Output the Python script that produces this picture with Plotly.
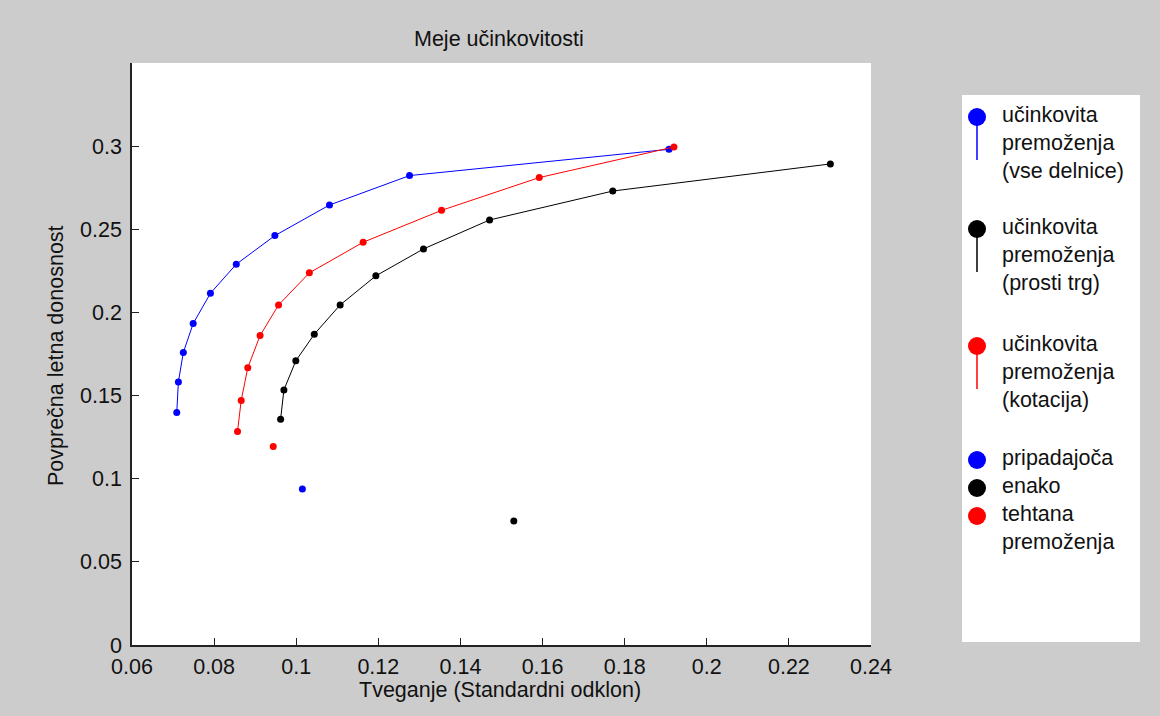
import plotly.graph_objects as go

# ---------------- data ----------------
blue_x = [0.0709, 0.0713, 0.0725, 0.0749, 0.0791, 0.0854, 0.0948, 0.1081, 0.1276, 0.1908]
blue_y = [0.1398, 0.1582, 0.1759, 0.1933, 0.2115, 0.2290, 0.2462, 0.2646, 0.2823, 0.2981]

black_x = [0.0962, 0.0970, 0.0999, 0.1044, 0.1107, 0.1194, 0.1310, 0.1471, 0.1771, 0.2301]
black_y = [0.1358, 0.1534, 0.1709, 0.1869, 0.2045, 0.2220, 0.2382, 0.2556, 0.2730, 0.2893]

red_x = [0.0857, 0.0866, 0.0882, 0.0912, 0.0957, 0.1032, 0.1163, 0.1354, 0.1592, 0.1920]
red_y = [0.1284, 0.1471, 0.1667, 0.1861, 0.2045, 0.2238, 0.2422, 0.2614, 0.2811, 0.2995]

# single portfolios: pripadajoča (blue), enako (black), tehtana (red)
single_x = [0.1015, 0.1530, 0.0944]
single_y = [0.0938, 0.0745, 0.1194]
single_colors = ["#0000ff", "#000000", "#ff0000"]

x_ticks = [0.06, 0.08, 0.10, 0.12, 0.14, 0.16, 0.18, 0.20, 0.22, 0.24]
x_ticktext = ["0.06", "0.08", "0.1", "0.12", "0.14", "0.16", "0.18", "0.2", "0.22", "0.24"]
y_ticks = [0, 0.05, 0.10, 0.15, 0.20, 0.25, 0.30]
y_ticktext = ["0", "0.05", "0.1", "0.15", "0.2", "0.25", "0.3"]

curve_labels = [
    ["učinkovita", "premoženja", "(vse delnice)"],
    ["učinkovita", "premoženja", "(prosti trg)"],
    ["učinkovita", "premoženja", "(kotacija)"],
]
curve_colors = ["#0000ff", "#000000", "#ff0000"]
single_labels = ["pripadajoča", "enako", "tehtana", "premoženja"]

title_text = "Meje učinkovitosti"
x_title = "Tveganje (Standardni odklon)"
y_title = "Povprečna letna donosnost"

# ---------------- layout geometry ----------------
W, H = 1160, 716
L, R, T, B = 132, 871, 63, 645
FONT = "Liberation Sans, Arial, sans-serif"
FS = 21.5
TXT = "#111111"


def px(x):
    return (x - L) / (R - L)


def py(y):
    return (B - y) / (B - T)


fig = go.Figure()

for xs, ys, c in [(blue_x, blue_y, curve_colors[0]),
                  (black_x, black_y, curve_colors[1]),
                  (red_x, red_y, curve_colors[2])]:
    fig.add_trace(go.Scatter(x=xs, y=ys, mode="lines+markers",
                             line=dict(color=c, width=1),
                             marker=dict(color=c, size=7, symbol="circle"),
                             showlegend=False, hoverinfo="x+y"))

for i in range(len(single_x)):
    fig.add_trace(go.Scatter(x=[single_x[i]], y=[single_y[i]], mode="markers",
                             marker=dict(color=single_colors[i], size=7),
                             showlegend=False))

shapes = []
annotations = []

# legend box
shapes.append(dict(type="rect", xref="paper", yref="paper",
                   x0=px(962), x1=px(1140), y0=py(642), y1=py(95),
                   fillcolor="white", line=dict(color="white", width=0), layer="above"))

cx = 977
rad = 9
entry_tops = [117, 229, 346]
for k in range(3):
    cy = entry_tops[k]
    col = curve_colors[k]
    shapes.append(dict(type="line", xref="paper", yref="paper",
                       x0=px(cx), x1=px(cx), y0=py(cy), y1=py(cy + 43),
                       line=dict(color=col, width=1.5), layer="above"))
    shapes.append(dict(type="circle", xref="paper", yref="paper",
                       x0=px(cx - rad), x1=px(cx + rad), y0=py(cy + rad), y1=py(cy - rad),
                       fillcolor=col, line=dict(color=col, width=0), layer="above"))
    for j, t in enumerate(curve_labels[k]):
        annotations.append(dict(text=t, xref="paper", yref="paper",
                                x=px(1000), y=py(cy - 2 + 28 * j), xanchor="left", yanchor="middle",
                                showarrow=False, font=dict(family=FONT, size=FS, color=TXT)))

single_cy = [460, 488, 516]
for k in range(3):
    cy = single_cy[k]
    col = single_colors[k]
    shapes.append(dict(type="circle", xref="paper", yref="paper",
                       x0=px(cx - rad), x1=px(cx + rad), y0=py(cy + rad), y1=py(cy - rad),
                       fillcolor=col, line=dict(color=col, width=0), layer="above"))
for j, t in enumerate(single_labels):
    annotations.append(dict(text=t, xref="paper", yref="paper",
                            x=px(1000), y=py(458 + 28 * j), xanchor="left", yanchor="middle",
                            showarrow=False, font=dict(family=FONT, size=FS, color=TXT)))

# title & axis titles
annotations.append(dict(text=title_text, xref="paper", yref="paper", x=px(499), y=py(39),
                        xanchor="center", yanchor="middle", showarrow=False,
                        font=dict(family=FONT, size=FS, color=TXT)))
annotations.append(dict(text=x_title, xref="paper", yref="paper", x=px(500), y=py(690),
                        xanchor="center", yanchor="middle", showarrow=False,
                        font=dict(family=FONT, size=FS, color=TXT)))
annotations.append(dict(text=y_title, xref="paper", yref="paper", x=px(56), y=py(356),
                        xanchor="center", yanchor="middle", showarrow=False, textangle=-90,
                        font=dict(family=FONT, size=FS, color=TXT)))

fig.update_layout(
    width=W, height=H,
    margin=dict(l=L, r=W - R, t=T, b=H - B, pad=0),
    paper_bgcolor="#cccccc", plot_bgcolor="white",
    showlegend=False,
    shapes=shapes, annotations=annotations,
    font=dict(family=FONT, size=FS, color=TXT),
    xaxis=dict(range=[0.06, 0.24], tickvals=x_ticks, ticktext=x_ticktext,
               ticks="inside", ticklen=7, tickcolor="#222222", tickwidth=1,
               showline=True, linecolor="#222222", linewidth=1.5,
               showgrid=False, zeroline=False, ticklabelstandoff=1,
               tickfont=dict(family=FONT, size=FS, color=TXT)),
    yaxis=dict(range=[0, 0.35], tickvals=y_ticks, ticktext=y_ticktext,
               ticks="inside", ticklen=7, tickcolor="#222222", tickwidth=1,
               showline=True, linecolor="#222222", linewidth=1.5,
               showgrid=False, zeroline=False, ticklabelstandoff=4,
               tickfont=dict(family=FONT, size=FS, color=TXT)),
)

fig.write_html("out.html")
